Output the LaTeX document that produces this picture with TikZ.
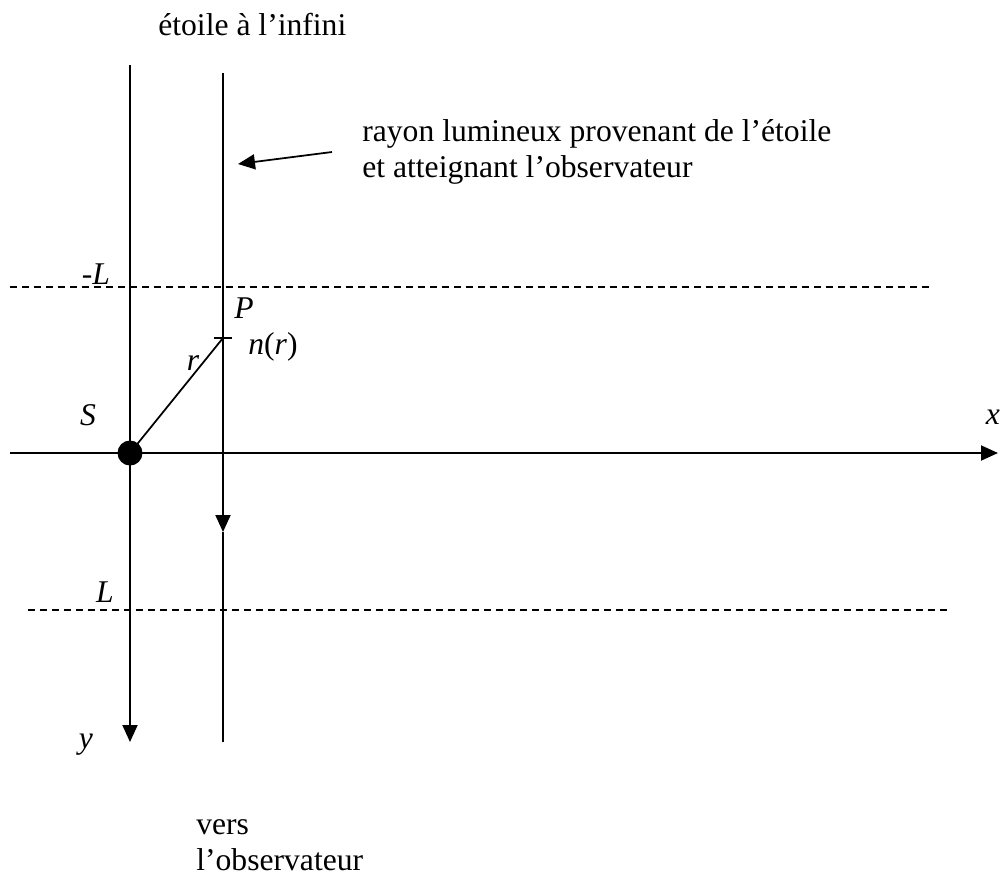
\documentclass[tikz,border=0pt]{standalone}
\usepackage{fontspec}
\setmainfont{Liberation Serif}
\usetikzlibrary{arrows.meta,positioning,calc}

\begin{document}
\begin{tikzpicture}[
  x=0.02cm, y=-0.02cm,
  every node/.style={font=\fontsize{18}{20.5}\selectfont, inner sep=0pt},
  lbl/.style={font=\fontsize{18}{20.5}\selectfont\itshape},
  txt/.style={align=left, anchor=west},
  axis/.style={line width=1.1pt},
  arr/.style={axis, -{Triangle[length=0.34cm, width=0.3cm]}},
  limit/.style={line width=1pt, dash pattern=on 0.14cm off 0.1cm},
  star/.style={circle, fill=black, minimum size=0.5cm},
]
\useasboundingbox (0,0) rectangle (1001,877);

% Source and point P
\node[star] (S) at (130,453) {};
\coordinate (P) at (223,338);

% Axes
\coordinate (xstart) at (10,453);
\coordinate (xend) at (998,453);
\coordinate (ytop) at (130,65);
\coordinate (yend) at (130,742);
\draw[arr] (xstart) -- (xend);
\draw[arr] (ytop) -- (yend);

% Light ray from the star
\coordinate (raytop) at (223,73);
\coordinate (raymid) at (223,532);
\coordinate (raybot) at (223,742);
\draw[arr] (raytop) -- (raymid);
\draw[axis] (raymid) -- (raybot);

% Limits -L and L
\coordinate (mLa) at (10,287);
\coordinate (mLb) at (930,287);
\coordinate (La) at (28,610);
\coordinate (Lb) at (950,610);
\draw[limit] (mLa) -- (mLb);
\draw[limit] (La) -- (Lb);

% Radius r and tick at P
\draw[line width=1pt] (S.center) -- (P);
\draw[line width=1pt] ($(P)+(-9,0)$) -- ($(P)+(9,0)$);

% Labels
\node[lbl] (lmL) at (96,274) {-L};
\node[lbl] (lP) at (244,308) {P};
\node (ln) at (273,347) {\textit{n}(\textit{r})};
\node[lbl] (lr) at (193,363) {r};
\node[lbl] (lS) at (88,415) {S};
\node[lbl] (lx) at (993,417) {x};
\node[lbl] (lL) at (105,592) {L};
\node[lbl] (ly) at (86,745) {y};

% Texts
\node[anchor=base west] (title) at (158,35) {étoile à l'infini};
\node[txt] (rayon) at (362,152) {rayon lumineux provenant de l'étoile\\et atteignant l'observateur};
\node[txt, anchor=base west] (vers) at (196,870) {vers\\l'observateur};

% Pointer to the ray
\coordinate (ptr) at (238,164);
\draw[arr, line width=1pt] (rayon.west -| 332,155) -- (ptr);

\end{tikzpicture}
\end{document}
